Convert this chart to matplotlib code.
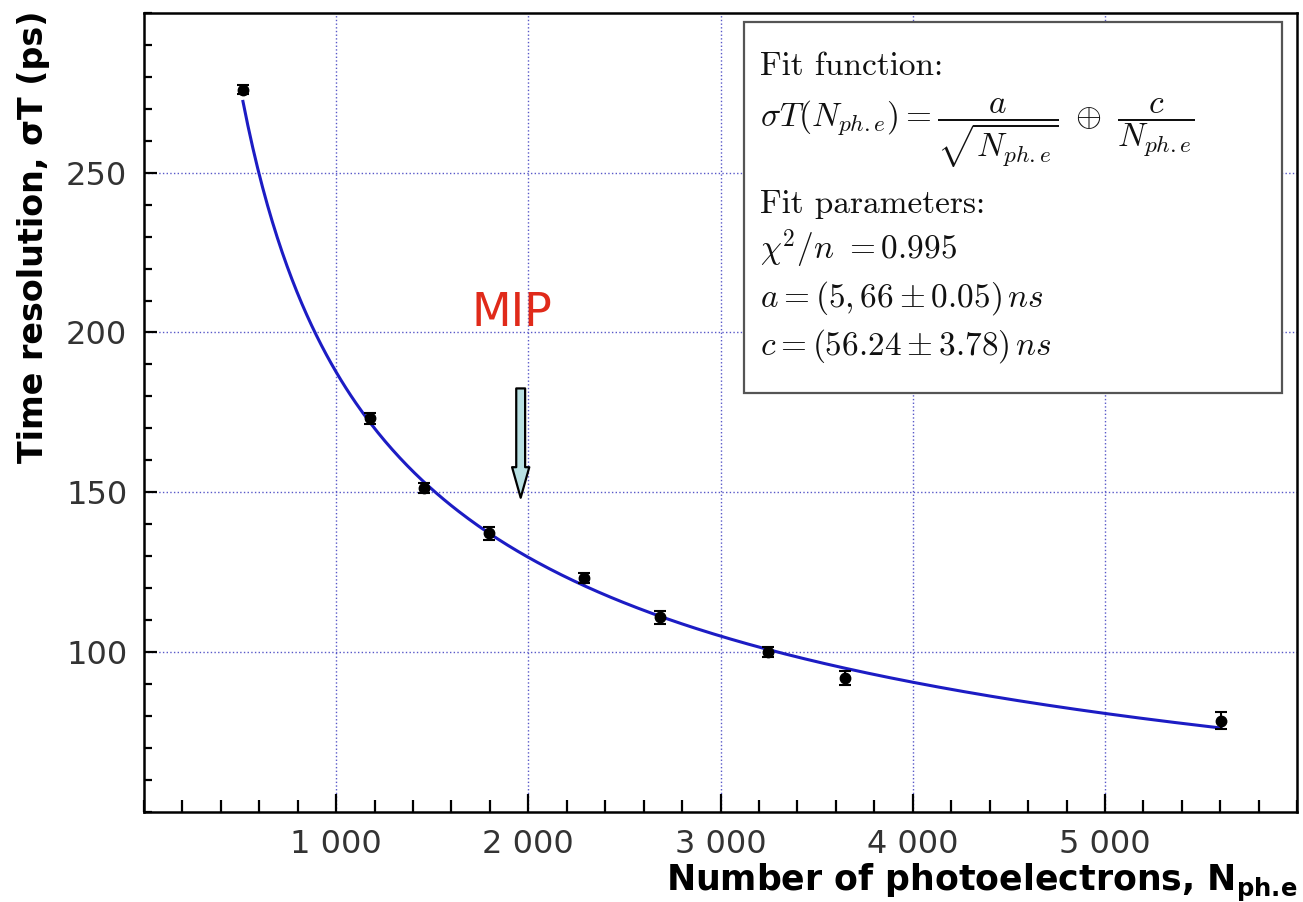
import numpy as np
import matplotlib.pyplot as plt
from matplotlib.patches import Rectangle
from matplotlib.ticker import MultipleLocator, FuncFormatter

# measured points
n_pe = [515, 1176, 1457, 1795, 2289, 2685, 3247, 3647, 5604]
sigma_t = [276.0, 173.1, 151.3, 137.2, 123.1, 110.9, 100.0, 91.9, 78.6]
sigma_err = [1.3, 1.6, 1.6, 2.0, 1.6, 2.0, 1.6, 2.2, 2.6]

# fit parameters (ps)
fit_a = 5660.0
fit_c = 56240.0

x_major = [1000, 2000, 3000, 4000, 5000]
y_major = [100, 150, 200, 250]

mip_x = 1960


def fit_func(n):
    return np.sqrt((fit_a / np.sqrt(n)) ** 2 + (fit_c / n) ** 2)


fig = plt.figure(figsize=(13.03, 9.02), dpi=100)
ax = fig.add_axes([0.1105, 0.0998, 0.885, 0.886])

ax.set_xlim(0, 6000)
ax.set_ylim(50, 300)

# grid
for xv in x_major:
    ax.axvline(xv, color='#5858c8', linestyle=':', linewidth=1.0, zorder=1)
for yv in y_major:
    ax.axhline(yv, color='#5858c8', linestyle=':', linewidth=1.0, zorder=1)

nn = np.linspace(n_pe[0], n_pe[-1], 400)
ax.plot(nn, fit_func(nn), color='#1c1cc4', linewidth=2.2, zorder=3)
ax.errorbar(n_pe, sigma_t, yerr=sigma_err, fmt='o', color='black',
            markersize=7.5, capsize=4, elinewidth=1.5, capthick=1.5, zorder=4)

# ticks
ax.set_xticks(x_major)
ax.xaxis.set_minor_locator(MultipleLocator(200))
ax.xaxis.set_major_formatter(FuncFormatter(lambda v, p: f"{int(v):,}".replace(",", " ")))
ax.set_yticks(y_major)
ax.yaxis.set_minor_locator(MultipleLocator(10))
ax.tick_params(axis='both', which='both', direction='in', width=1.6,
               labelsize=23, labelcolor='#333333', top=False, right=False)
ax.tick_params(axis='x', which='major', length=13, pad=12)
ax.tick_params(axis='x', which='minor', length=8.5)
ax.tick_params(axis='y', which='major', length=9.5, pad=12)
ax.tick_params(axis='y', which='minor', length=6)
for s in ax.spines.values():
    s.set_linewidth(1.8)

# fit box
ax.add_patch(Rectangle((0.520, 0.524), 0.467, 0.464, transform=ax.transAxes,
                       facecolor='white', edgecolor='#555555', linewidth=1.6, zorder=5))
box_lines = [
    (0.922, 'Fit function:'),
    (0.857, r'$\sigma T(N_{ph.e}) = \dfrac{a}{\sqrt{N_{ph.e}}}\ \oplus\ \dfrac{c}{N_{ph.e}}$'),
    (0.749, 'Fit parameters:'),
    (0.691, r'$\chi^2/n\ = 0.995$'),
    (0.632, r'$a = (5,66 \pm 0.05)\,ns$'),
    (0.572, r'$c = (56.24 \pm 3.78)\,ns$'),
]
for yy, txt in box_lines:
    fam = 'cmr10' if not txt.startswith('$') else 'DejaVu Sans'
    ax.text(0.534, yy, txt, transform=ax.transAxes, fontsize=24, va='baseline',
            ha='left', family=fam, math_fontfamily='cm', color='#111111', zorder=6)

# MIP marker
ax.text(mip_x - 45, 206, 'MIP', color='#e02a1a', fontsize=33, ha='center', va='center')
ax.annotate('', xy=(mip_x, 148.3), xytext=(mip_x, 182.5),
            arrowprops=dict(arrowstyle='simple,head_length=1.1,head_width=0.62,tail_width=0.32',
                            mutation_scale=20, facecolor='#b8e0e2', edgecolor='black',
                            linewidth=1.6, shrinkA=0, shrinkB=0))

fig.text(0.996, 0.012, r'Number of photoelectrons, N$_{\mathbf{ph.\!e}}$', fontsize=25,
         fontweight='bold', ha='right', va='baseline', math_fontfamily='dejavusans')
fig.text(0.026, 0.737, 'Time resolution, σT (ps)', fontsize=24, fontweight='bold',
         rotation=90, ha='center', va='center')

fig.savefig('out.png', dpi=100)
